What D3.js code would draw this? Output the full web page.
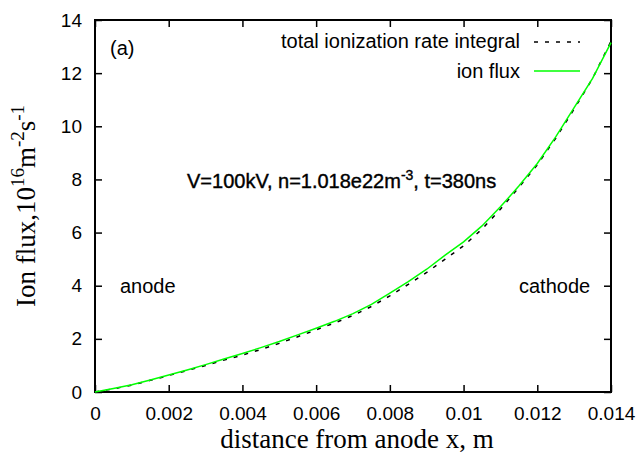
<!DOCTYPE html>
<meta charset="utf-8">
<style>
  body { margin: 0; background: white; }
  .tick text { font-family: "Liberation Sans", Arial, sans-serif; font-size: 19px; }
  .lbl { font-family: "Liberation Serif", "Times New Roman", serif; font-size: 27px; }
  .note { font-family: "Liberation Sans", Arial, sans-serif; font-size: 20px; }
</style>
<script src="https://d3js.org/d3.v7.min.js"></script>
<div id="chart"></div>
<script>
// distance from anode, m
var xs = [0, 0.0005, 0.001, 0.0015, 0.002, 0.0025, 0.003, 0.0035, 0.004, 0.0045, 0.005, 0.0055,
          0.006, 0.0065, 0.007, 0.0075, 0.008, 0.0085, 0.009, 0.0095, 0.01, 0.0105, 0.011,
          0.0115, 0.012, 0.0125, 0.013, 0.0135, 0.014];
// ion flux, 1e16 m^-2 s^-1
var ionFlux = [0, 0.13, 0.27, 0.45, 0.64, 0.83, 1.03, 1.24, 1.45, 1.67, 1.9, 2.15,
               2.4, 2.66, 2.95, 3.3, 3.72, 4.15, 4.62, 5.15, 5.65, 6.25, 6.97,
               7.75, 8.6, 9.6, 10.7, 11.8, 13.15];
// total ionization rate integral
var rateIntegral = [0, 0.12, 0.26, 0.44, 0.62, 0.81, 1.0, 1.2, 1.39, 1.6, 1.83, 2.08,
                    2.34, 2.6, 2.88, 3.22, 3.62, 4.05, 4.5, 5.0, 5.5, 6.13, 6.88,
                    7.7, 8.55, 9.55, 10.65, 11.8, 13.2];
var xTicks = [0, 0.002, 0.004, 0.006, 0.008, 0.01, 0.012, 0.014];
var yTicks = [0, 2, 4, 6, 8, 10, 12, 14];

var margin = {top: 20, right: 31, bottom: 63, left: 95},
    width = 642 - margin.left - margin.right,
    height = 455 - margin.top - margin.bottom;

var svg = d3.select("#chart").append("svg")
    .attr("width", 642).attr("height", 455)
  .append("g")
    .attr("transform", "translate(" + margin.left + "," + margin.top + ")");

var x = d3.scaleLinear().domain([0, 0.014]).range([0, width]);
var y = d3.scaleLinear().domain([0, 14]).range([height, 0]);

// axes, ticks pointing inwards
svg.append("g").attr("transform", "translate(0," + height + ")")
  .call(d3.axisBottom(x).tickValues(xTicks).tickSizeInner(-7).tickSizeOuter(0).tickPadding(15)
        .tickFormat(function(d) { return d === 0 ? "0" : d3.format("")(+d.toFixed(3)); }));
svg.append("g")
  .call(d3.axisLeft(y).tickValues(yTicks).tickSizeInner(-7).tickSizeOuter(0).tickPadding(13));
svg.append("g")
  .call(d3.axisTop(x).tickValues(xTicks).tickSizeInner(-7).tickSizeOuter(0).tickFormat(""));
svg.append("g").attr("transform", "translate(" + width + ",0)")
  .call(d3.axisRight(y).tickValues(yTicks).tickSizeInner(-7).tickSizeOuter(0).tickFormat(""));
svg.selectAll(".domain").remove();
svg.selectAll(".tick line").attr("stroke", "#000").attr("stroke-width", 1.5);
svg.selectAll(".tick text").attr("fill", "#000");

svg.append("rect").attr("width", width).attr("height", height)
  .attr("fill", "none").attr("stroke", "#000").attr("stroke-width", 2);

var line = d3.line().x(function(d) { return x(d[0]); }).y(function(d) { return y(d[1]); });

svg.append("path").datum(xs.map(function(v, i) { return [v, rateIntegral[i]]; }))
  .attr("d", line).attr("fill", "none").attr("stroke", "#000")
  .attr("stroke-width", 1.5).attr("stroke-dasharray", "4,7");
svg.append("path").datum(xs.map(function(v, i) { return [v, ionFlux[i]]; }))
  .attr("d", line).attr("fill", "none").attr("stroke", "#00ff00").attr("stroke-width", 1.5);

// legend
svg.append("text").attr("class", "note").attr("x", 425).attr("y", 28)
  .attr("text-anchor", "end").text("total ionization rate integral");
svg.append("line").attr("x1", 439).attr("x2", 485).attr("y1", 22).attr("y2", 22)
  .attr("stroke", "#000").attr("stroke-width", 1.5).attr("stroke-dasharray", "4,7");
svg.append("text").attr("class", "note").attr("x", 425).attr("y", 58)
  .attr("text-anchor", "end").text("ion flux");
svg.append("line").attr("x1", 439).attr("x2", 485).attr("y1", 51).attr("y2", 51)
  .attr("stroke", "#00ff00").attr("stroke-width", 1.5);

svg.append("text").attr("class", "note").attr("x", 15).attr("y", 35).text("(a)");
svg.append("text").attr("class", "note").attr("x", 25).attr("y", 273).text("anode");
svg.append("text").attr("class", "note").attr("x", 424).attr("y", 273).text("cathode");

var ann = svg.append("text").attr("class", "note").attr("x", 92).attr("y", 168)
  .attr("stroke", "#000").attr("stroke-width", 0.4);
ann.append("tspan").text("V=100kV, n=1.018e22m");
ann.append("tspan").attr("dy", -8).attr("font-size", 14).text("-3");
ann.append("tspan").attr("dy", 8).text(", t=380ns");

// axis labels
svg.append("text").attr("class", "lbl").attr("x", width / 2 + 4).attr("y", height + 56)
  .attr("text-anchor", "middle").text("distance from anode x, m");
var yl = svg.append("text").attr("class", "lbl")
  .attr("transform", "translate(-60," + (206 - margin.top) + ") rotate(-90)")
  .attr("text-anchor", "middle");
yl.append("tspan").text("Ion flux,10");
yl.append("tspan").attr("dy", -11).attr("font-size", 19).text("16");
yl.append("tspan").attr("dy", 11).text("m");
yl.append("tspan").attr("dy", -11).attr("font-size", 19).text("-2");
yl.append("tspan").attr("dy", 11).text("s");
yl.append("tspan").attr("dy", -11).attr("font-size", 19).text("-1");
</script>
